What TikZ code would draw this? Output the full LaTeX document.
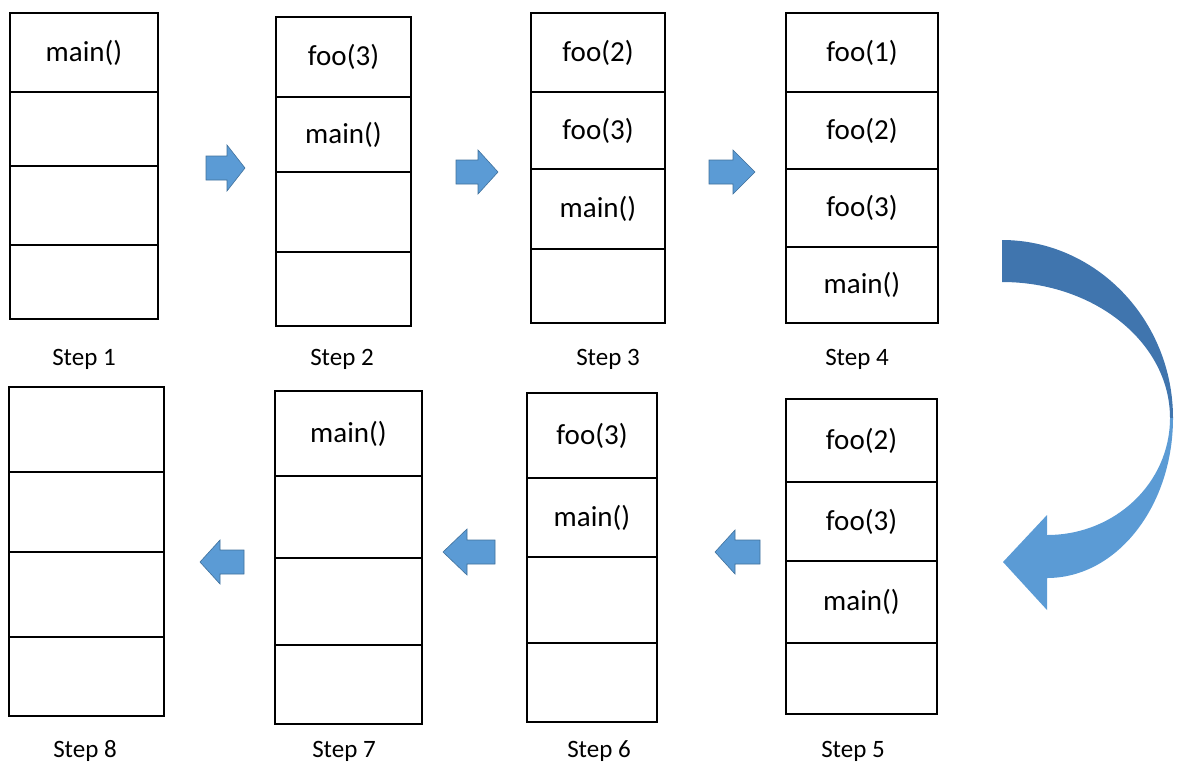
\documentclass[tikz,border=0pt]{standalone}
\usepackage{fontspec}
\setmainfont{Carlito}
\definecolor{arrowblue}{RGB}{91,155,213}
\definecolor{arrowedge}{RGB}{65,113,156}
\definecolor{arrowdark}{RGB}{64,117,174}
\tikzset{
  cell/.style={draw=black, line width=1.3pt, fill=white, inner sep=0pt, outer sep=0pt,
    font=\fontsize{29}{33}\selectfont},
  steplabel/.style={inner sep=0pt, anchor=base, font=\fontsize{25}{30}\selectfont},
  blockarrow/.style={fill=arrowblue, draw=arrowedge, line width=0.6pt, line join=miter},
  pics/rarrow/.style n args={3}{code={%
    % #1 = length, #2 = head length, #3 = head half-height (shaft half-height 12)
    \path[blockarrow] (0,-12) -- ({#1-#2},-12) -- ({#1-#2},-#3) -- (#1,0)
      -- ({#1-#2},#3) -- ({#1-#2},12) -- (0,12) -- cycle;}},
  pics/larrow/.style n args={3}{code={%
    \path[blockarrow] (0,0) -- (#2,-#3) -- (#2,-12) -- (#1,-12) -- (#1,12)
      -- (#2,12) -- (#2,#3) -- cycle;}}
}
% \cell{name}{x0}{y0}{x1}{y1}{text}: one frame of a call stack
\newcommand\cell[6]{%
  \node[cell, minimum width={(#4-#2)*1pt}, minimum height={(#5-#3)*1pt}]
    (#1) at ({(#2+#4)/2},{(#3+#5)/2}) {#6};}
\begin{document}
\begin{tikzpicture}[x=1pt,y=-1pt]
\useasboundingbox (0,0) rectangle (1177,764);

% Step 1
\cell{s1a}{10}{13}{158}{92}{main()}
\cell{s1b}{10}{92}{158}{166}{}
\cell{s1c}{10}{166}{158}{245}{}
\cell{s1d}{10}{245}{158}{319}{}
% Step 2
\cell{s2a}{276}{17}{411}{97}{foo(3)}
\cell{s2b}{276}{97}{411}{172}{main()}
\cell{s2c}{276}{172}{411}{252}{}
\cell{s2d}{276}{252}{411}{326}{}
% Step 3
\cell{s3a}{531}{13}{665}{92}{foo(2)}
\cell{s3b}{531}{92}{665}{169}{foo(3)}
\cell{s3c}{531}{169}{665}{249}{main()}
\cell{s3d}{531}{249}{665}{323}{}
% Step 4
\cell{s4a}{786}{13}{938}{92}{foo(1)}
\cell{s4b}{786}{92}{938}{169}{foo(2)}
\cell{s4c}{786}{169}{938}{247}{foo(3)}
\cell{s4d}{786}{247}{938}{323}{main()}
% Step 5
\cell{s5a}{786}{399}{937}{482}{foo(2)}
\cell{s5b}{786}{482}{937}{561}{foo(3)}
\cell{s5c}{786}{561}{937}{643}{main()}
\cell{s5d}{786}{643}{937}{714}{}
% Step 6
\cell{s6a}{527}{393}{657}{478}{foo(3)}
\cell{s6b}{527}{478}{657}{557}{main()}
\cell{s6c}{527}{557}{657}{643}{}
\cell{s6d}{527}{643}{657}{722}{}
% Step 7
\cell{s7a}{275}{391}{422}{476}{main()}
\cell{s7b}{275}{476}{422}{558}{}
\cell{s7c}{275}{558}{422}{645}{}
\cell{s7d}{275}{645}{422}{724}{}
% Step 8
\cell{s8a}{9}{387}{164}{472}{}
\cell{s8b}{9}{472}{164}{552}{}
\cell{s8c}{9}{552}{164}{637}{}
\cell{s8d}{9}{637}{164}{716}{}

% step captions (placed on their baselines)
\node[steplabel] (l1) at (84,365) {Step 1};
\node[steplabel] (l2) at (342,365) {Step 2};
\node[steplabel] (l3) at (608,365) {Step 3};
\node[steplabel] (l4) at (857,365) {Step 4};
\node[steplabel] (l5) at (853,757) {Step 5};
\node[steplabel] (l6) at (599,757) {Step 6};
\node[steplabel] (l7) at (344,757) {Step 7};
\node[steplabel] (l8) at (85,757) {Step 8};

% push arrows (top row)
\pic at (206,168) {rarrow={39}{18}{23}};
\pic at (456,172) {rarrow={42}{20}{22}};
\pic at (709,172) {rarrow={46}{22}{22}};
% pop arrows (bottom row)
\pic at (715,552) {larrow={45}{20}{22}};
\pic at (443,552) {larrow={52}{24}{23}};
\pic at (200,562) {larrow={44}{20}{22}};

% curved arrow from step 4 down to step 5
\fill[arrowdark] (1002,240) .. controls (1096,240) and (1173,320) .. (1173,418)
  -- (1170,418) .. controls (1170,343) and (1095,282) .. (1002,282) -- cycle;
\fill[arrowblue] (1173,418) .. controls (1173,506) and (1117,578) .. (1047,578)
  -- (1047,610) -- (1003,562) -- (1047,515) -- (1047,535)
  .. controls (1115,535) and (1170,483) .. (1170,418) -- cycle;
\end{tikzpicture}
\end{document}
